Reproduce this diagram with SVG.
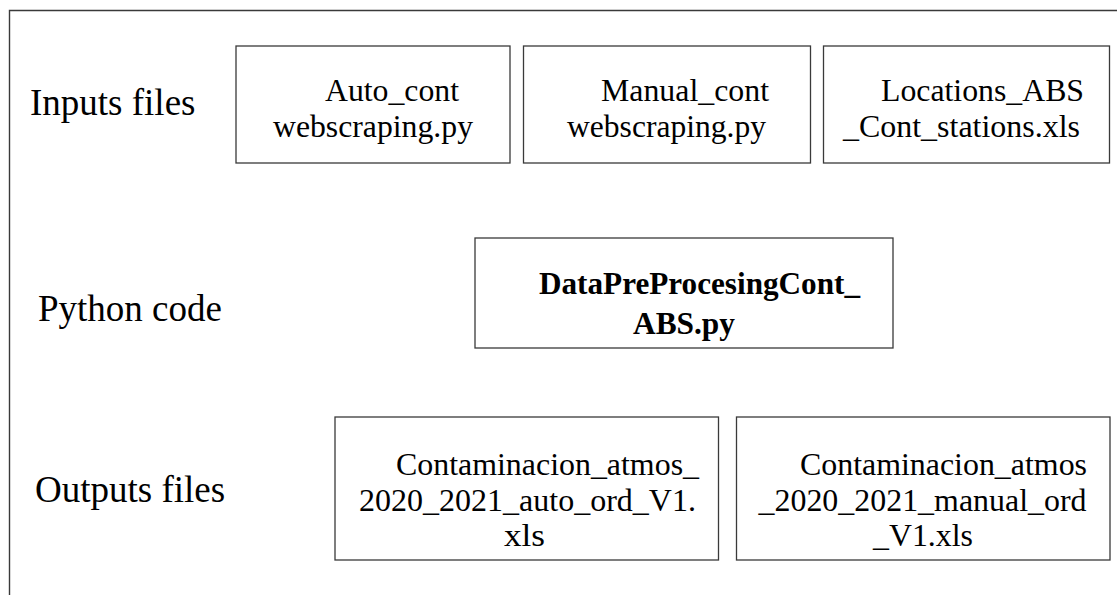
<svg xmlns="http://www.w3.org/2000/svg" width="1117" height="595" viewBox="0 0 1117 595">
  <style>
    .frame { fill: none; stroke: #3a3a3a; stroke-width: 1.4; }
    .box { fill: #ffffff; stroke: #3a3a3a; stroke-width: 1.3; }
    .label { font-family: "Liberation Serif", "Times New Roman", serif; font-size: 37px; fill: #000; }
    .t { font-family: "Liberation Serif", "Times New Roman", serif; font-size: 32px; fill: #000; }
    .b { font-family: "Liberation Serif", "Times New Roman", serif; font-size: 31px; font-weight: bold; fill: #000; }
  </style>
  <rect width="1117" height="595" fill="#ffffff"/>

  <!-- outer frame: only the top and left edges fall inside the canvas -->
  <path class="frame" d="M9.5,595 V10.5 H1117"/>

  <!-- row labels -->
  <g id="row-labels">
    <text class="label" x="30" y="115">Inputs files</text>
    <text class="label" x="38" y="321">Python code</text>
    <text class="label" x="35" y="502">Outputs files</text>
  </g>

  <!-- input files -->
  <g id="auto-cont">
    <rect class="box" x="236" y="46" width="274" height="117"/>
    <text class="t" x="325" y="101" textLength="134" lengthAdjust="spacingAndGlyphs">Auto_cont</text>
    <text class="t" x="273" y="137" textLength="200" lengthAdjust="spacingAndGlyphs">webscraping.py</text>
  </g>
  <g id="manual-cont">
    <rect class="box" x="523.5" y="46" width="287" height="117"/>
    <text class="t" x="601" y="101" textLength="168" lengthAdjust="spacingAndGlyphs">Manual_cont</text>
    <text class="t" x="567" y="137" textLength="199" lengthAdjust="spacingAndGlyphs">webscraping.py</text>
  </g>
  <g id="locations">
    <rect class="box" x="823.5" y="46" width="286" height="117"/>
    <text class="t" x="881" y="101" textLength="203" lengthAdjust="spacingAndGlyphs">Locations_ABS</text>
    <text class="t" x="843" y="137" textLength="237" lengthAdjust="spacingAndGlyphs">_Cont_stations.xls</text>
  </g>

  <!-- processing script -->
  <g id="preprocessing">
    <rect class="box" x="475" y="238" width="418" height="110"/>
    <text class="b" x="539" y="294" textLength="321" lengthAdjust="spacingAndGlyphs">DataPreProcesingCont_</text>
    <text class="b" x="633" y="334" textLength="102" lengthAdjust="spacingAndGlyphs">ABS.py</text>
  </g>

  <!-- output files -->
  <g id="auto-output">
    <rect class="box" x="335" y="417" width="383.5" height="143"/>
    <text class="t" x="396" y="475" textLength="303" lengthAdjust="spacingAndGlyphs">Contaminacion_atmos_</text>
    <text class="t" x="359" y="511" textLength="337" lengthAdjust="spacingAndGlyphs">2020_2021_auto_ord_V1.</text>
    <text class="t" x="504" y="546" textLength="41" lengthAdjust="spacingAndGlyphs">xls</text>
  </g>
  <g id="manual-output">
    <rect class="box" x="736.5" y="417" width="373.5" height="143"/>
    <text class="t" x="800" y="475" textLength="287" lengthAdjust="spacingAndGlyphs">Contaminacion_atmos</text>
    <text class="t" x="758.5" y="511" textLength="328" lengthAdjust="spacingAndGlyphs">_2020_2021_manual_ord</text>
    <text class="t" x="873" y="546" textLength="100" lengthAdjust="spacingAndGlyphs">_V1.xls</text>
  </g>

  <!-- no connectors are drawn between the nodes -->
  <g id="connectors"/>
</svg>
